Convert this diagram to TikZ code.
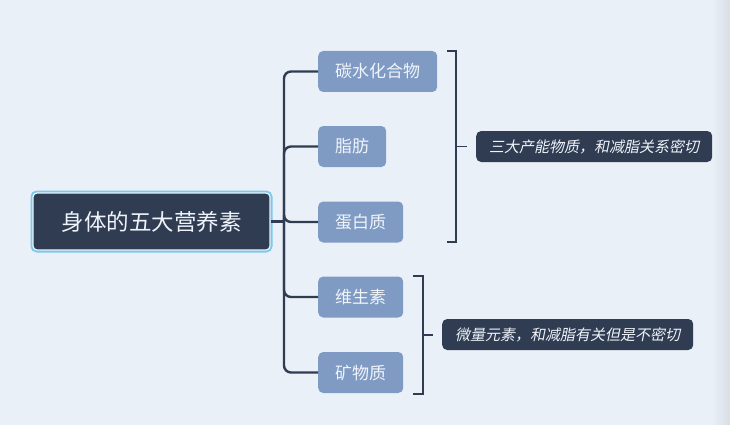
\documentclass[tikz,border=0pt]{standalone}
\usepackage{fontspec}
\setmainfont{Noto Sans CJK SC}
\newfontfamily\cjkslant[FakeSlant=0.2]{Noto Sans CJK SC}
\usetikzlibrary{positioning}

\definecolor{bgcol}{HTML}{EAF0F8}
\definecolor{darkcol}{HTML}{2F3C52}
\definecolor{subcol}{HTML}{7F9BC4}
\definecolor{glowcol}{HTML}{7CC9EC}
\definecolor{txtcol}{HTML}{F0F4FA}

\begin{document}
\begin{tikzpicture}[
    x=1pt, y=-1pt,
    rootbox/.style={fill=darkcol, draw=txtcol, line width=1.2pt, preaction={draw=glowcol, line width=5pt},
        rounded corners=4pt, minimum width=237pt, minimum height=57pt, text=txtcol, font=\fontsize{22.5}{25}\selectfont},
    subbox/.style={fill=subcol, rounded corners=5pt, minimum height=41pt, inner xsep=17pt, text=txtcol,
        font=\fontsize{17}{19}\selectfont, anchor=west},
    notebox/.style={fill=darkcol, rounded corners=5pt, minimum height=31pt, inner xsep=13pt, text=txtcol,
        font=\cjkslant\fontsize{15}{17}\selectfont, anchor=west},
    trunk/.style={draw=darkcol, line width=2.4pt, rounded corners=7pt},
    brace/.style={draw=darkcol, line width=1.7pt}
]

% ================= Canvas =================
\fill[bgcol] (0,0) rectangle (730,425);
\shade[left color=bgcol, right color=black!4!bgcol!92!gray] (712,0) rectangle (730,425);
\useasboundingbox (0,0) rectangle (730,425);

% ================= Nodes =================

% Root topic
\node[rootbox] (root) at (151.5,221.5) {身体的五大营养素};

% The five nutrients
\node[subbox] (carb) at (318,71.5) {碳水化合物};
\node[subbox] (fat) at (318,146.5) {脂肪};
\node[subbox] (protein) at (318,222) {蛋白质};
\node[subbox] (vitamin) at (318,297) {维生素};
\node[subbox] (mineral) at (318,372.5) {矿物质};

% Summary notes
\node[notebox] (note1) at (476,146.5) {三大产能物质，和减脂关系密切};
\node[notebox] (note2) at (442,334.5) {微量元素，和减脂有关但是不密切};

% ================= Edges =================

\coordinate (jct) at (284,221.5);
\draw[trunk] (root.east) -- (jct);
\foreach \n in {carb, fat, protein, vitamin, mineral}
    \draw[trunk] (jct) |- (\n.west);

% Summary brackets
\coordinate (b1t) at (447,51);
\coordinate (b1m) at (456,146.5);
\coordinate (b1b) at (447,242);
\coordinate (b1e) at (467,146.5);
\draw[brace] (b1t) -| (b1m) |- (b1b);
\draw[brace] (b1m) -- (b1e);

\coordinate (b2t) at (413,276);
\coordinate (b2m) at (423,335);
\coordinate (b2b) at (413,394);
\coordinate (b2e) at (433,335);
\draw[brace] (b2t) -| (b2m) |- (b2b);
\draw[brace] (b2m) -- (b2e);

\end{tikzpicture}
\end{document}
